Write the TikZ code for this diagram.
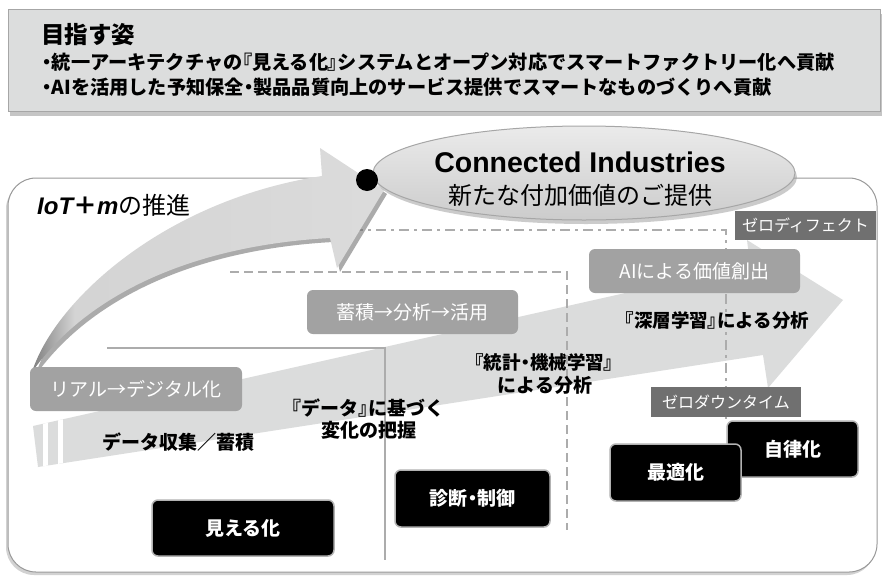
\documentclass[tikz,border=0pt]{standalone}
\usepackage{fontspec}
\setmainfont{Noto Sans CJK JP}
\newfontfamily\pp{Noto Sans CJK JP}[RawFeature=+palt]
\newfontfamily\lat{Liberation Sans}
\usetikzlibrary{shapes.geometric,shadows}
\definecolor{boxgray}{RGB}{220,221,221}
\definecolor{bandgray}{RGB}{219,220,220}
\definecolor{labgray}{RGB}{162,162,162}
\definecolor{darklab}{RGB}{112,112,112}
\definecolor{linegray}{RGB}{172,172,172}
\pgfdeclarehorizontalshading{arrowshade}{100bp}{color(0bp)=(black!50); color(25bp)=(black!50); color(31bp)=(black!17); color(75bp)=(black!14); color(100bp)=(black!14)}
\newcommand\fsz[1]{\fontsize{#1pt}{#1pt}\selectfont}
\newcommand\LBr{{\pp 『}}
\newcommand\RBr{{\pp 』}}
\newcommand\Dt{{\pp ・}}
\begin{document}
\begin{tikzpicture}[x=1pt,y=-1pt,
  graylab/.style={fill=labgray, rounded corners=6pt, text=white, inner sep=0pt, font=\fsz{19}},
  zerolab/.style={fill=darklab, text=white, inner sep=0pt, font=\fsz{16}},
  blackbox/.style={fill=black, draw=black!30, line width=1.5pt, rounded corners=6pt, text=white, inner sep=0pt, font=\bfseries\fsz{19}},
  bodytxt/.style={inner sep=0pt, font=\bfseries\fsz{18}},
  guide/.style={draw=linegray, line width=1.8pt},
  dashguide/.style={draw=linegray, line width=2pt, dash pattern=on 9pt off 5pt},
  dotguide/.style={draw=linegray, line width=2pt, dash pattern=on 10pt off 5pt on 3pt off 5pt}
]
\useasboundingbox (0,0) rectangle (882,576);

% top goal box
\node[draw=black!35, fill=boxgray, minimum width=872pt, minimum height=102pt, inner sep=0pt,
      drop shadow={shadow xshift=2pt, shadow yshift=-5pt, fill=black!45}] (goal) at (444,60) {};
\node[anchor=west, inner sep=0pt, font=\bfseries\fsz{23.5}] (goalt) at (41,35) {目指す姿};
\node[anchor=west, inner sep=0pt, font=\bfseries\fsz{19.2}] (goal1) at (42,62) {\Dt 統一アーキテクチャの\LBr 見える化\RBr システムとオープン対応でスマートファクトリー化へ貢献};
\node[anchor=west, inner sep=0pt, font=\bfseries\fsz{19.2}] (goal2) at (42,87) {\Dt AIを活用した予知保全\Dt 製品品質向上のサービス提供でスマートなものづくりへ貢献};

% main rounded frame
\node[draw=black!40, fill=white, line width=1pt, rounded corners=28pt, minimum width=869pt, minimum height=394pt, inner sep=0pt,
      drop shadow={shadow xshift=-2pt, shadow yshift=-3pt, fill=black!35}] (frame) at (442.5,375) {};

% straight band arrow
\fill[bandgray] (33,426) -- (750,265) -- (747,240) -- (843,300) -- (768,388) -- (763,355) -- (38,467) -- cycle;
\begin{scope}
  \clip (33,426) -- (750,265) -- (763,355) -- (38,467) -- cycle;
  \draw[white, line width=4.5pt] (45.5,400) -- (45.5,480);
  \draw[white, line width=4.5pt] (60.5,400) -- (60.5,480);
\end{scope}

% guide lines
\draw[guide] (107,348) -- (385,348) -- (385,560);
\draw[dashguide] (230,272) -- (567,272) -- (567,530);
\draw[dotguide] (330,230) -- (726,230) -- (726,421);

% curved arrow
\def\curvedarrow{(32,372) .. controls (55,300) and (165,200) .. (322,176) -- (320,148) -- (384,190) -- (337,268) -- (330,238) .. controls (200,245) and (90,290) .. cycle}
\fill[black!60, opacity=0.55, shift={(3,4)}] \curvedarrow;
\path[shading=arrowshade] \curvedarrow;

% ellipse
\node[ellipse, draw=black!35, line width=1pt, top color=black!8, bottom color=black!20,
      minimum width=422pt, minimum height=94pt, inner sep=0pt,
      drop shadow={shadow xshift=2pt, shadow yshift=-4pt, fill=black!40}] (ci) at (584,173) {};
\node[inner sep=0pt, font=\lat\bfseries\fsz{28.5}] (ciA) at (580,162) {Connected Industries};
\node[inner sep=0pt, font=\fsz{24}] (ciB) at (580,195) {新たな付加価値のご提供};
\node[circle, fill=black, minimum size=22pt, inner sep=0pt] (dot) at (367,180) {};

% title of frame
\node[anchor=west, inner sep=0pt] (iot) at (37,205) {{\lat\bfseries\itshape\fsz{24}IoT}{\bfseries\fsz{24}＋}{\lat\bfseries\itshape\fsz{24}m}{\fsz{24}の推進}};

% gray stage labels
\node[graylab, minimum width=212pt, minimum height=44pt] (real) at (136,389) {リアル→デジタル化};
\node[graylab, minimum width=211pt, minimum height=44pt] (acc) at (412.5,312) {蓄積→分析→活用};
\node[graylab, minimum width=211pt, minimum height=44pt] (ai) at (694.5,271) {AIによる価値創出};
\node[zerolab, minimum width=141pt, minimum height=29pt] (zd) at (805.5,225.5) {ゼロディフェクト};
\node[zerolab, minimum width=150pt, minimum height=30pt] (zt) at (726,402) {ゼロダウンタイム};

% body texts
\node[bodytxt, font=\bfseries\fsz{19}] (t1) at (178,442) {データ収集／蓄積};
\node[bodytxt, font=\bfseries\fsz{19}] (t2a) at (368,408) {\LBr データ\RBr に基づく};
\node[bodytxt, font=\bfseries\fsz{19}] (t2b) at (369,430) {変化の把握};
\node[bodytxt, font=\bfseries\fsz{18.5}] (t3a) at (544,362) {\LBr 統計\Dt 機械学習\RBr};
\node[bodytxt, font=\bfseries\fsz{19}] (t3b) at (545,385) {による分析};
\node[bodytxt, font=\bfseries\fsz{18.5}] (t4) at (717,320) {\LBr 深層学習\RBr による分析};

% black boxes
\node[blackbox, minimum width=182pt, minimum height=56pt] (vis) at (243,528) {見える化};
\node[blackbox, minimum width=155pt, minimum height=57pt] (diag) at (472.5,498.5) {診断\Dt 制御};
\node[blackbox, minimum width=131pt, minimum height=56pt] (auto) at (792.5,449) {自律化};
\node[blackbox, minimum width=131pt, minimum height=57pt] (opt) at (675.5,472.5) {最適化};
\end{tikzpicture}
\end{document}
